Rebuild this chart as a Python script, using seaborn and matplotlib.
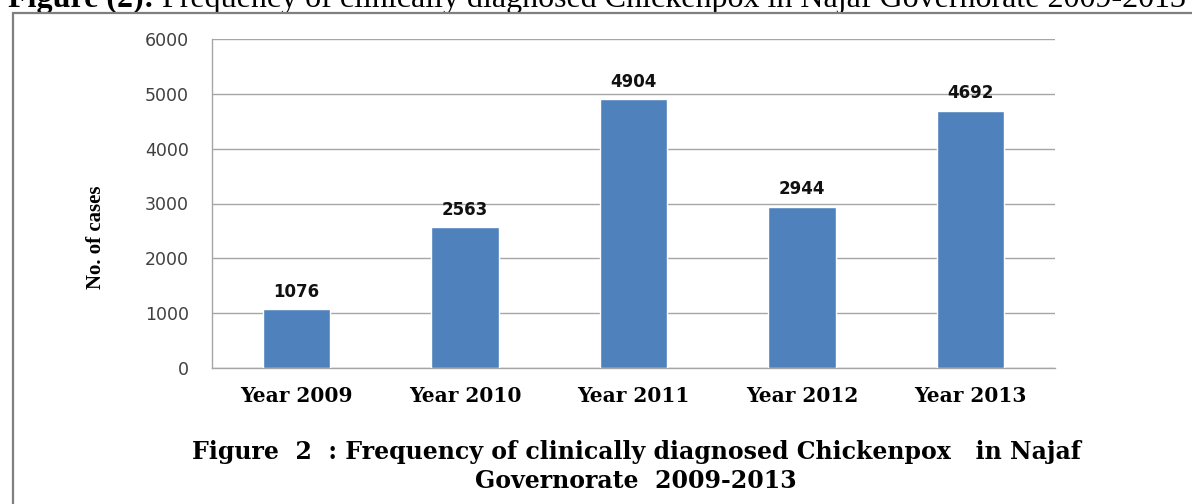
import matplotlib
matplotlib.use('Agg')
import matplotlib.pyplot as plt
import seaborn as sns
import pandas as pd
from matplotlib.patches import Rectangle

years = ['Year 2009', 'Year 2010', 'Year 2011', 'Year 2012', 'Year 2013']
cases = [1076, 2563, 4904, 2944, 4692]
yticks = [0, 1000, 2000, 3000, 4000, 5000, 6000]

data = pd.DataFrame({'year': years, 'cases': cases})

sns.set_style('white')
plt.rcParams['text.color'] = 'black'
plt.rcParams['xtick.color'] = 'black'

fig = plt.figure(figsize=(11.92, 5.04), dpi=100)
ax = fig.add_axes([212 / 1192, 1 - 368 / 504, (1055 - 212) / 1192, (368 - 39) / 504])

sns.barplot(data=data, x='year', y='cases', color='#4F81BD', saturation=1,
            width=0.4, ax=ax, zorder=3)

ax.set_ylim(0, 6000)
ax.set_xlim(-0.5, 4.5)
ax.set_yticks(yticks)
ax.set_yticklabels([str(v) for v in yticks], fontsize=12.5, color='#404040',
                   family='DejaVu Sans')
ax.yaxis.grid(True, color='#a6a6a6', linewidth=1, zorder=0)
ax.set_axisbelow(True)

# ticks on the category boundaries, as in the original
ax.set_xticks([i - 0.5 for i in range(6)], minor=True)
ax.tick_params(axis='x', which='minor', length=6, width=1, color='#a6a6a6', direction='out')
ax.tick_params(axis='x', which='major', length=0, pad=13, labelcolor='black')
ax.tick_params(axis='y', length=6.5, width=1, color='#a6a6a6', direction='out', pad=10)
ax.set_xticklabels(years, fontsize=14.5, fontweight='bold', family='DejaVu Serif',
                   color='black')

for s in ['top', 'right']:
    ax.spines[s].set_visible(False)
for s in ['left', 'bottom']:
    ax.spines[s].set_color('#a6a6a6')
    ax.spines[s].set_linewidth(1)

ax.set_xlabel('')
ax.set_ylabel('')
fig.text(96 / 1192, 1 - 237 / 504, 'No. of cases', rotation=90, ha='center', va='center',
         fontsize=15, fontweight='bold', family='Liberation Serif', color='black')

for c in ax.containers:
    ax.bar_label(c, labels=[str(v) for v in cases], padding=6, fontsize=12,
                 fontweight='bold', family='DejaVu Sans', color='#111111')

# caption under the chart
fig.text(636 / 1192, 1 - 459 / 504,
         'Figure  2  : Frequency of clinically diagnosed Chickenpox   in Najaf',
         ha='center', va='baseline', fontsize=17, fontweight='bold', family='DejaVu Serif',
         color='black')
fig.text(636 / 1192, 1 - 488 / 504, 'Governorate  2009-2013',
         ha='center', va='baseline', fontsize=17, fontweight='bold', family='DejaVu Serif',
         color='black')

# frame around the chart (runs past the right and bottom edges)
fig.patches.append(Rectangle((12.5 / 1192, -0.1), 1.2, 1 - 12.5 / 504 + 0.1,
                             transform=fig.transFigure, fill=False,
                             edgecolor='#7f7f7f', linewidth=1.6, zorder=5))

# page heading, cut off by the top edge like in the scan
t1 = fig.text(8 / 1192, 1 - 7 / 504, 'Figure (2):', fontsize=23, fontweight='bold',
              family='Liberation Serif', va='baseline', ha='left', color='black')
ax.annotate(' Frequency of clinically diagnosed Chickenpox in Najaf Governorate 2009-2013',
            xy=(1, 0), xycoords=t1, ha='left', va='bottom', color='black',
            fontsize=23, family='Liberation Serif', annotation_clip=False)

fig.savefig('out.png', dpi=100)
